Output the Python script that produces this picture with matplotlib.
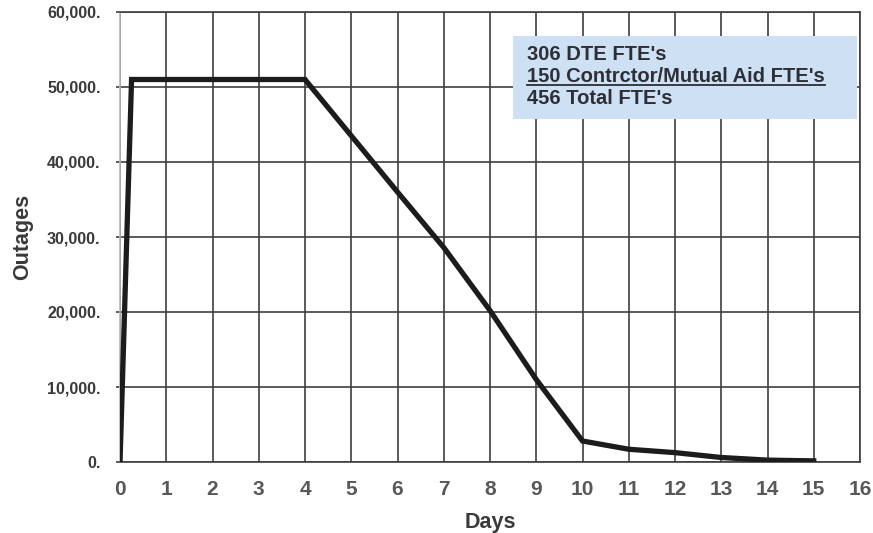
import matplotlib
matplotlib.use("Agg")
import matplotlib.pyplot as plt
from matplotlib.patches import Rectangle
from matplotlib.lines import Line2D

# ---- data ----
days = [0, 0.25, 4, 5, 6, 7, 8, 9, 10, 11, 12, 13, 14, 15]
outages = [0, 51000, 51000, 43500, 36000, 28600, 20200, 11000, 2800, 1700, 1250, 600, 250, 150]
x_ticks = list(range(0, 17))
y_ticks = [0, 10000, 20000, 30000, 40000, 50000, 60000]
note_lines = ["306 DTE FTE's", "150 Contrctor/Mutual Aid FTE's", "456 Total FTE's"]

plt.rcParams['font.family'] = ['Liberation Sans', 'DejaVu Sans']
plt.rcParams['font.weight'] = 'bold'

W, H = 873, 533
fig = plt.figure(figsize=(W / 100, H / 100), dpi=100)
ax = fig.add_axes([120 / W, 1 - 462 / H, 740 / W, 450 / H])

grid_c = '#3e3e3e'
ax.set_xlim(0, 16)
ax.set_ylim(0, 60000)
ax.set_xticks(x_ticks)
ax.set_yticks(y_ticks)
ax.set_xticklabels([str(t) for t in x_ticks], fontweight='bold')
ax.set_yticklabels([f"{v:,.0f}." for v in y_ticks], fontweight='bold')
ax.grid(True, color=grid_c, linewidth=1.2)
ax.set_axisbelow(True)

ax.tick_params(axis='x', length=0, pad=13, labelsize=15, labelcolor='#585858')
ax.tick_params(axis='y', length=3, width=1.2, color=grid_c, pad=11, labelsize=11.5,
               labelcolor='#3a3a3a')

for s in ['top', 'bottom', 'right']:
    ax.spines[s].set_color(grid_c)
    ax.spines[s].set_linewidth(1.2)
ax.spines['left'].set_color('#b8b8b8')
ax.spines['left'].set_linewidth(1.2)

ax.plot(days, outages, color='#1c1c1c', linewidth=3.8, solid_joinstyle='miter', zorder=4)

ax.set_xlabel('Days', fontsize=15.5, fontweight='bold', color='#3a3a3a', labelpad=9)
ax.set_ylabel('Outages', fontsize=15.5, fontweight='bold', color='#3a3a3a')
ax.yaxis.set_label_coords(-(120 - 33) / 740, 0.5)

# note box
x0 = (513 - 120) / 740
x1 = (857 - 120) / 740
y0 = (462 - 119) / 450
y1 = (462 - 36) / 450
ax.add_patch(Rectangle((x0, y0), x1 - x0, y1 - y0, transform=ax.transAxes,
                       facecolor='#cde0f4', edgecolor='none', zorder=5))
tx = (527 - 120) / 740
bases = [60, 82, 104]
texts = []
for line, b in zip(note_lines, bases):
    t = ax.text(tx, (462 - b) / 450, line, transform=ax.transAxes, fontsize=14.5,
                fontweight='bold', color='#2e2e36', va='baseline', ha='left', zorder=6)
    texts.append(t)

fig.canvas.draw()
r = fig.canvas.get_renderer()
bb = texts[1].get_window_extent(renderer=r)
inv = ax.transAxes.inverted()
(ux0, _), (ux1, _) = inv.transform([(bb.x0, 0), (bb.x1, 0)])
uy = (462 - 85) / 450
ax.add_line(Line2D([ux0, ux1], [uy, uy], transform=ax.transAxes, color='#2e2e36',
                   linewidth=1.3, zorder=6))

fig.savefig('out.png', dpi=100, facecolor='white')
